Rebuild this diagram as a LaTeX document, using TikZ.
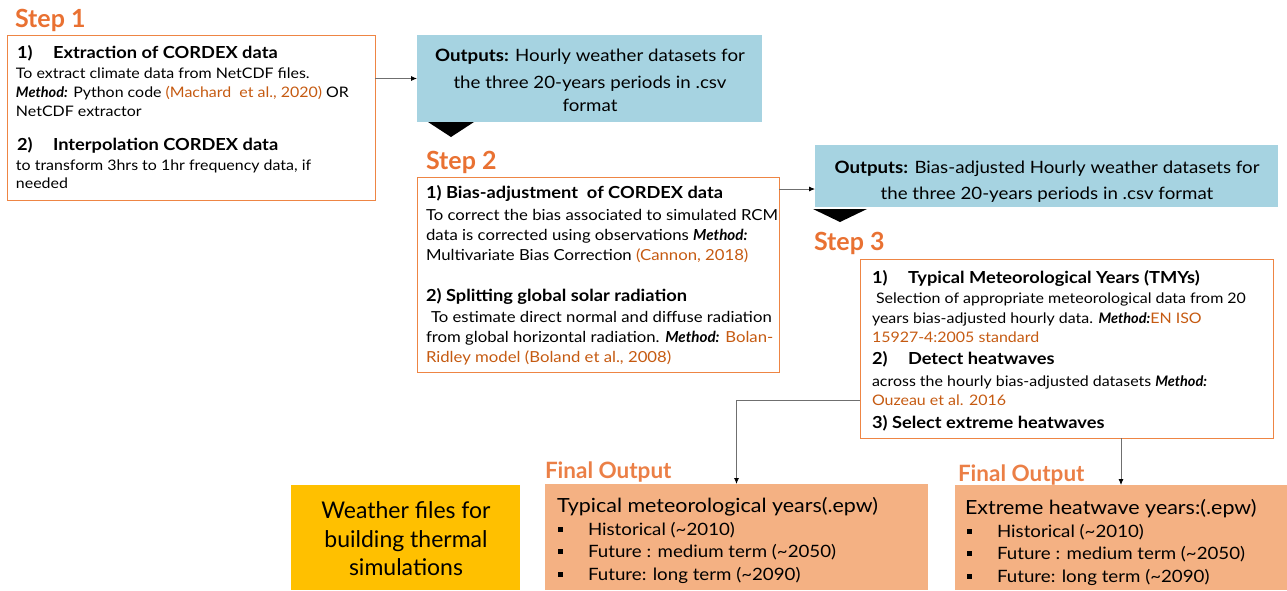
\documentclass[tikz,border=0pt]{standalone}
\usepackage{fontspec}
\setmainfont{Lato}[FakeStretch=1.10]
\newfontfamily\plainlato{Lato}
\usetikzlibrary{arrows.meta}
\definecolor{stepor}{HTML}{E97132}
\definecolor{citeor}{HTML}{C55A11}
\definecolor{boxor}{HTML}{EE8544}
\definecolor{outblue}{HTML}{A6D3E1}
\definecolor{peach}{HTML}{F4B183}
\definecolor{gold}{HTML}{FFC000}
\definecolor{conn}{HTML}{6F6F6F}
\newcommand{\meth}[1]{{\plainlato\bfseries\itshape #1}}
\newcommand{\cit}[1]{\textcolor{citeor}{#1}}
\newcommand{\sqb}{\rule[0.18em]{0.3em}{0.3em}}
\begin{document}
\begin{tikzpicture}[x=1pt,y=-1pt,
  ln/.style={anchor=base west, inner sep=0pt, outer sep=0pt},
  cl/.style={anchor=base, inner sep=0pt, outer sep=0pt},
  stp/.style={ln, font=\plainlato\fontsize{25}{28}\selectfont\bfseries, text=stepor},
  hd/.style={ln, font=\fontsize{16.6}{20}\selectfont\bfseries},
  bd/.style={ln, font=\fontsize{14.5}{18}\selectfont},
  bdtwo/.style={ln, font=\fontsize{15.2}{19}\selectfont},
  outtxt/.style={cl, font=\fontsize{17}{20}\selectfont},
  fhd/.style={ln, font=\fontsize{19.5}{22}\selectfont},
  fbd/.style={ln, font=\fontsize{17}{20}\selectfont},
  gtxt/.style={cl, font=\plainlato\fontsize{23}{26}\selectfont},
  box/.style={draw=boxor, line width=1pt, anchor=north west, inner sep=0pt, outer sep=0pt},
  fillbox/.style={anchor=north west, inner sep=0pt, outer sep=0pt},
  arr/.style={draw=conn, line width=0.8pt, -{Latex[length=6pt,width=5pt,color=black]}},
]
\useasboundingbox (0,0) rectangle (1287,590);

% ---------- boxes
\node[box, minimum width=368pt, minimum height=165pt] (b1) at (7,35) {};
\node[fillbox, fill=outblue, minimum width=345pt, minimum height=87pt] (o1) at (417,35) {};
\node[box, minimum width=362pt, minimum height=195pt] (b2) at (417,177) {};
\node[fillbox, fill=outblue, minimum width=463pt, minimum height=62pt] (o2) at (815,145) {};
\node[box, minimum width=413pt, minimum height=179pt] (b3) at (860,259) {};
\node[fillbox, fill=gold, minimum width=229pt, minimum height=105pt] (g) at (291,485) {};
\node[fillbox, fill=peach, minimum width=383pt, minimum height=106pt] (f1) at (545,484) {};
\node[fillbox, fill=peach, minimum width=332pt, minimum height=105pt] (f2) at (955,485) {};

% ---------- triangles
\fill (428,122) -- (474,122) -- (451,137) -- cycle;
\fill (813,209) -- (867,209) -- (840,222) -- cycle;

% ---------- step labels
\node[stp] (s1) at (15,27) {Step 1};
\node[stp] (s2) at (426,169) {Step 2};
\node[stp] (s3) at (814,250) {Step 3};
\node[stp, font=\plainlato\fontsize{22.5}{26}\selectfont\bfseries, text=stepor!90] (fo1) at (545,478) {Final Output};
\node[stp, font=\plainlato\fontsize{22.5}{26}\selectfont\bfseries, text=stepor!90] (fo2) at (958,481) {Final Output};

% ---------- box 1
\node[hd] (b1h1n) at (17,58) {1)};
\node[hd] (b1h1) at (53,58) {Extraction of CORDEX data};
\node[bd] (b1l1) at (16,78) {To extract climate data from NetCDF files.};
\node[bd] (b1l2) at (16,97) {\meth{Method:} Python code \cit{(Machard\ \ et al., 2020)} OR};
\node[bd] (b1l3) at (16,116) {NetCDF extractor};
\node[hd] (b1h2n) at (17,150) {2)};
\node[hd] (b1h2) at (53,150) {Interpolation CORDEX data};
\node[bd] (b1l4) at (16,170) {to transform 3hrs to 1hr frequency data, if};
\node[bd] (b1l5) at (16,188) {needed};

% ---------- outputs 1
\node[outtxt] (o1l1) at (590,61) {\textbf{Outputs:} Hourly weather datasets for};
\node[outtxt] (o1l2) at (590,88) {the three 20-years periods in .csv};
\node[outtxt] (o1l3) at (590,111) {format};

% ---------- box 2
\node[hd] (b2h1) at (426,198) {1) Bias-adjustment\ \ of CORDEX data};
\node[bdtwo] (b2l1) at (426,220) {To correct the bias associated to simulated RCM};
\node[bdtwo] (b2l2) at (426,240) {data is corrected using observations \meth{Method:}};
\node[bdtwo] (b2l3) at (426,260) {Multivariate Bias Correction \cit{(Cannon, 2018)}};
\node[hd] (b2h2) at (426,301) {2) Splitting global solar radiation};
\node[bdtwo] (b2l4) at (431,322) {To estimate direct normal and diffuse radiation};
\node[bdtwo] (b2l5) at (426,342) {from global horizontal radiation. \meth{Method:} \cit{Bolan-}};
\node[bdtwo] (b2l6) at (426,362) {\cit{Ridley model (Boland et al., 2008)}};

% ---------- outputs 2
\node[outtxt] (o2l1) at (1047,173) {\textbf{Outputs:} Bias-adjusted Hourly weather datasets for};
\node[outtxt] (o2l2) at (1047,199) {the three 20-years periods in .csv format};

% ---------- box 3
\node[hd] (b3h1n) at (872,283) {1)};
\node[hd] (b3h1) at (908,283) {Typical Meteorological Years (TMYs)};
\node[bd] (b3l1) at (876,303) {Selection of appropriate meteorological data from 20};
\node[bd] (b3l2) at (872,323) {years bias-adjusted hourly data. \meth{Method:}\cit{EN ISO}};
\node[bd] (b3l3) at (872,342) {\cit{15927-4:2005 standard}};
\node[hd] (b3h2n) at (872,364) {2)};
\node[hd] (b3h2) at (908,364) {Detect heatwaves};
\node[bd] (b3l4) at (872,386) {across the hourly bias-adjusted datasets \meth{Method:}};
\node[bd] (b3l5) at (872,405) {\cit{Ouzeau et al. 2016}};
\node[hd] (b3h3) at (872,428) {3) Select extreme heatwaves};

% ---------- gold box
\node[gtxt] (g1) at (406,518) {Weather files for};
\node[gtxt] (g2) at (406,547) {building thermal};
\node[gtxt] (g3) at (406,575) {simulations};

% ---------- final 1
\node[fhd] (f1h) at (557,512) {Typical meteorological years(.epw)};
\node[fbd] (f1b1) at (558,535) {\sqb};
\node[fbd] (f1t1) at (588,535) {Historical (\textasciitilde2010)};
\node[fbd] (f1b2) at (558,557) {\sqb};
\node[fbd] (f1t2) at (588,557) {Future : medium term (\textasciitilde2050)};
\node[fbd] (f1b3) at (558,580) {\sqb};
\node[fbd] (f1t3) at (588,580) {Future: long term (\textasciitilde2090)};

% ---------- final 2
\node[fhd] (f2h) at (965,514) {Extreme heatwave years:(.epw)};
\node[fbd] (f2b1) at (967,537) {\sqb};
\node[fbd] (f2t1) at (997,537) {Historical (\textasciitilde2010)};
\node[fbd] (f2b2) at (967,559) {\sqb};
\node[fbd] (f2t2) at (997,559) {Future : medium term (\textasciitilde2050)};
\node[fbd] (f2b3) at (967,582) {\sqb};
\node[fbd] (f2t3) at (997,582) {Future: long term (\textasciitilde2090)};

% ---------- connectors
\draw[arr] (b1.east |- o1.west) -- (o1.west);
\draw[arr] ([yshift=-12pt]b2.north east) coordinate (a2s) -- (a2s -| o2.west);
\draw[arr] ([yshift=-141pt]b3.north west) -| (f1.north);
\draw[arr] (b3.south -| f2.north) -- (f2.north);
\end{tikzpicture}
\end{document}
